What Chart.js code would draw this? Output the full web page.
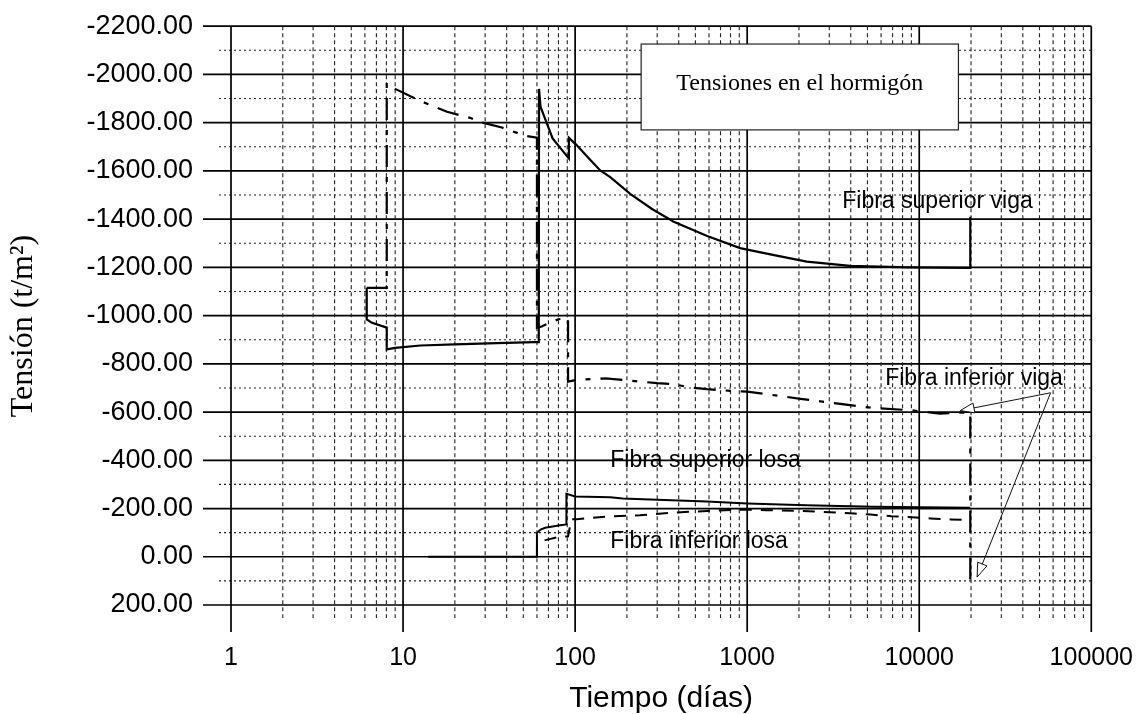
<!DOCTYPE html>
<html>
<head>
<meta charset="utf-8">
<title>Tensiones en el hormigón</title>
<script src="https://cdn.jsdelivr.net/npm/chart.js@4.4.1/dist/chart.umd.min.js"></script>
<style>
  html, body { margin: 0; padding: 0; background: #fff; }
  #wrap { width: 1144px; height: 714px; }
</style>
</head>
<body>
<div id="wrap"><canvas id="chart" width="1144" height="714"></canvas></div>
<script>
// values: tiempo (días) / tensión (t/m2)
const supVigaT = [6.15, 6.15, 6.6, 8.04, 8.04, 9, 12.6, 20, 35, 58, 61.5, 61.7, 63, 68.5, 74, 84, 92, 92, 102, 120, 140, 160, 209, 280, 372, 585, 910, 1410, 2220, 3970, 8570, 19800, 19800];
const supVigaV = [-1115, -984, -970, -950, -860, -866, -876, -881, -886, -890, -890, -1940, -1865, -1797, -1735, -1686, -1652, -1737, -1707, -1652, -1602, -1574, -1505, -1442, -1390, -1330, -1280, -1252, -1224, -1206, -1200, -1198, -1410];

const infVigaT = [6.15, 8.04, 8.04, 9, 12.3, 18, 24.5, 29, 37.5, 51, 60, 60, 64, 70, 80, 91, 91, 101, 150, 209, 300, 372, 465, 585, 800, 1000, 2040, 3480, 5370, 9140, 13200, 17300, 19800, 19800];
const infVigaV = [-1115, -1115, -1965, -1940, -1893, -1845, -1820, -1800, -1780, -1746, -1738, -950, -955, -968, -985, -990, -726, -733, -740, -730, -720, -716, -702, -695, -688, -685, -655, -634, -617, -607, -593, -598, -598, 115];

const supLosaT = [14, 60, 60, 63, 67, 80, 89, 89, 93, 100, 160, 189, 300, 585, 1000, 2200, 5400, 19800];
const supLosaV = [0, 0, -99, -113, -120, -130, -134, -261, -257, -250, -247, -242, -236, -229, -221, -214, -207, -203];

const infLosaT = [60, 60, 64, 70, 80, 91, 95, 102, 160, 238, 372, 585, 1000, 1300, 2040, 2800, 4200, 5200, 6900, 8600, 11600, 15200, 19800];
const infLosaV = [0, -50, -65, -72, -82, -85, -155, -156, -168, -172, -183, -190, -196, -193, -190, -186, -179, -175, -168, -165, -159, -155, -152];

const xDecades = [1, 10, 100, 1000, 10000];
const xSteps = [1, 2, 3, 4, 5, 6, 7, 8, 9];
const xMin = 1, xMax = 100000;
const xDecadeLabels = ['1', '10', '100', '1000', '10000', '100000'];
const yMin = -2200, yMax = 200, yStep = 100, yLabelStep = 200;

const titleText = 'Tensiones en el hormigón';
const titleBoxT = [242, 16900];
const titleBoxV = [-2126, -1770];
const noteTexts = ['Fibra superior viga', 'Fibra inferior viga', 'Fibra superior losa', 'Fibra inferior losa'];
const noteT = [3570, 6340, 160, 160];
const noteV = [-1473, -738, -399, -64];
const arrowFrom = [58000, -680];
const arrowToT = [17300, 21700];
const arrowToV = [-606, 84];

function pts(ts, vs) {
    return ts.map((t, i) => ({ x: t, y: vs[i] }));
}

function isDecade(v) {
    return xDecadeLabels.includes(String(v));
}

// scanned-paper style grid: solid majors, dotted/dashed minors, ticks outside
const scanGrid = {
    id: 'scanGrid',
    beforeDatasetsDraw(chart) {
        const { ctx, chartArea: a, scales: { x, y } } = chart;
        ctx.save();
        y.ticks.forEach(t => {
            const py = y.getPixelForValue(t.value);
            const major = t.value % yLabelStep === 0;
            ctx.beginPath();
            ctx.setLineDash(major ? [] : [2, 3]);
            ctx.lineWidth = major ? 1.7 : 1.1;
            ctx.strokeStyle = major ? '#000' : '#222';
            ctx.moveTo(a.left - (major ? 28 : 12), py);
            ctx.lineTo(a.right, py);
            ctx.stroke();
        });
        x.ticks.forEach(t => {
            const px = x.getPixelForValue(t.value);
            const major = isDecade(t.value);
            ctx.beginPath();
            ctx.setLineDash(major ? [] : [4, 3]);
            ctx.lineWidth = major ? 1.7 : 1.1;
            ctx.strokeStyle = major ? '#000' : '#222';
            ctx.moveTo(px, a.top);
            ctx.lineTo(px, a.bottom + (major ? 27 : 13));
            ctx.stroke();
        });
        ctx.restore();
    }
};

function arrowHead(ctx, x0, y0, x1, y1) {
    const ang = Math.atan2(y1 - y0, x1 - x0);
    const len = 14, half = 5;
    const bx = x1 - len * Math.cos(ang), by = y1 - len * Math.sin(ang);
    ctx.beginPath();
    ctx.moveTo(x1, y1);
    ctx.lineTo(bx + half * Math.sin(ang), by - half * Math.cos(ang));
    ctx.lineTo(bx - half * Math.sin(ang), by + half * Math.cos(ang));
    ctx.closePath();
    ctx.fillStyle = '#fff';
    ctx.fill();
    ctx.stroke();
}

const annotate = {
    id: 'annotate',
    afterDatasetsDraw(chart) {
        const { ctx, scales: { x, y } } = chart;
        ctx.save();
        ctx.setLineDash([]);

        const bx0 = x.getPixelForValue(titleBoxT[0]), bx1 = x.getPixelForValue(titleBoxT[1]);
        const by0 = y.getPixelForValue(titleBoxV[0]), by1 = y.getPixelForValue(titleBoxV[1]);
        ctx.fillStyle = '#fff';
        ctx.fillRect(bx0, by0, bx1 - bx0, by1 - by0);
        ctx.lineWidth = 1.2;
        ctx.strokeStyle = '#222';
        ctx.strokeRect(bx0, by0, bx1 - bx0, by1 - by0);
        ctx.fillStyle = '#000';
        ctx.font = '24px "Liberation Serif"';
        ctx.textAlign = 'center';
        ctx.textBaseline = 'middle';
        ctx.fillText(titleText, (bx0 + bx1) / 2, (by0 + by1) / 2 - 3);

        ctx.font = '23px "Liberation Sans"';
        ctx.textAlign = 'left';
        noteTexts.forEach((s, i) => {
            ctx.fillText(s, x.getPixelForValue(noteT[i]), y.getPixelForValue(noteV[i]));
        });

        const ax = x.getPixelForValue(arrowFrom[0]), ay = y.getPixelForValue(arrowFrom[1]);
        ctx.lineWidth = 1;
        ctx.strokeStyle = '#111';
        arrowToT.forEach((t, i) => {
            const tx = x.getPixelForValue(t), ty = y.getPixelForValue(arrowToV[i]);
            ctx.beginPath();
            ctx.moveTo(ax, ay);
            ctx.lineTo(tx, ty);
            ctx.stroke();
            arrowHead(ctx, ax, ay, tx, ty);
        });
        ctx.restore();
    },
    afterDraw(chart) {
        const { ctx } = chart;
        ctx.save();
        ctx.translate(24, 326);
        ctx.rotate(-Math.PI / 2);
        ctx.fillStyle = '#000';
        ctx.font = '32px "Liberation Serif"';
        ctx.textAlign = 'center';
        ctx.textBaseline = 'middle';
        ctx.fillText('Tensión (t/m²)', 0, 0);
        ctx.restore();
    }
};

const lineStyle = { borderColor: '#000', pointRadius: 0, tension: 0, fill: false };

const chart = new Chart(document.getElementById('chart'), {
    type: 'line',
    data: {
        datasets: [
            { ...lineStyle, label: 'Fibra superior viga', data: pts(supVigaT, supVigaV), borderWidth: 2.2 },
            { ...lineStyle, label: 'Fibra inferior viga', data: pts(infVigaT, infVigaV), borderWidth: 2.2, borderDash: [22, 10, 5, 10] },
            { ...lineStyle, label: 'Fibra superior losa', data: pts(supLosaT, supLosaV), borderWidth: 2 },
            { ...lineStyle, label: 'Fibra inferior losa', data: pts(infLosaT, infLosaV), borderWidth: 2, borderDash: [12, 9] }
        ]
    },
    options: {
        responsive: false,
        animation: false,
        layout: { padding: { top: 24, right: 52, bottom: 0, left: 0 } },
        plugins: { legend: { display: false }, tooltip: { enabled: false } },
        scales: {
            x: {
                type: 'logarithmic',
                min: xMin,
                max: xMax,
                afterBuildTicks(scale) {
                    const ticks = [];
                    xDecades.forEach(d => xSteps.forEach(s => ticks.push({ value: d * s })));
                    ticks.push({ value: xMax });
                    scale.ticks = ticks;
                },
                afterFit(scale) { scale.height = 109; },
                grid: { color: 'transparent', tickColor: 'transparent', tickLength: 27 },
                border: { display: false },
                ticks: {
                    autoSkip: false,
                    maxRotation: 0,
                    minRotation: 0,
                    padding: 11,
                    color: '#000',
                    font: { family: 'Liberation Sans', size: 25 },
                    callback: (v) => isDecade(v) ? String(v) : ''
                },
                title: {
                    display: true,
                    text: 'Tiempo (días)',
                    color: '#000',
                    font: { family: 'Liberation Sans', size: 30, lineHeight: 1 },
                    padding: { top: 0, bottom: 0 }
                }
            },
            y: {
                reverse: true,
                min: yMin,
                max: yMax,
                afterBuildTicks(scale) {
                    const ticks = [];
                    for (let v = yMin; v <= yMax; v += yStep) ticks.push({ value: v });
                    scale.ticks = ticks;
                },
                afterFit(scale) { scale.width = 231; },
                grid: { color: 'transparent', tickColor: 'transparent', tickLength: 28 },
                border: { display: false },
                ticks: {
                    autoSkip: false,
                    padding: 10,
                    color: '#000',
                    font: { family: 'Liberation Sans', size: 27 },
                    callback: (v) => v % yLabelStep === 0 ? v.toFixed(2) : ''
                }
            }
        }
    },
    plugins: [scanGrid, annotate]
});
</script>
</body>
</html>
